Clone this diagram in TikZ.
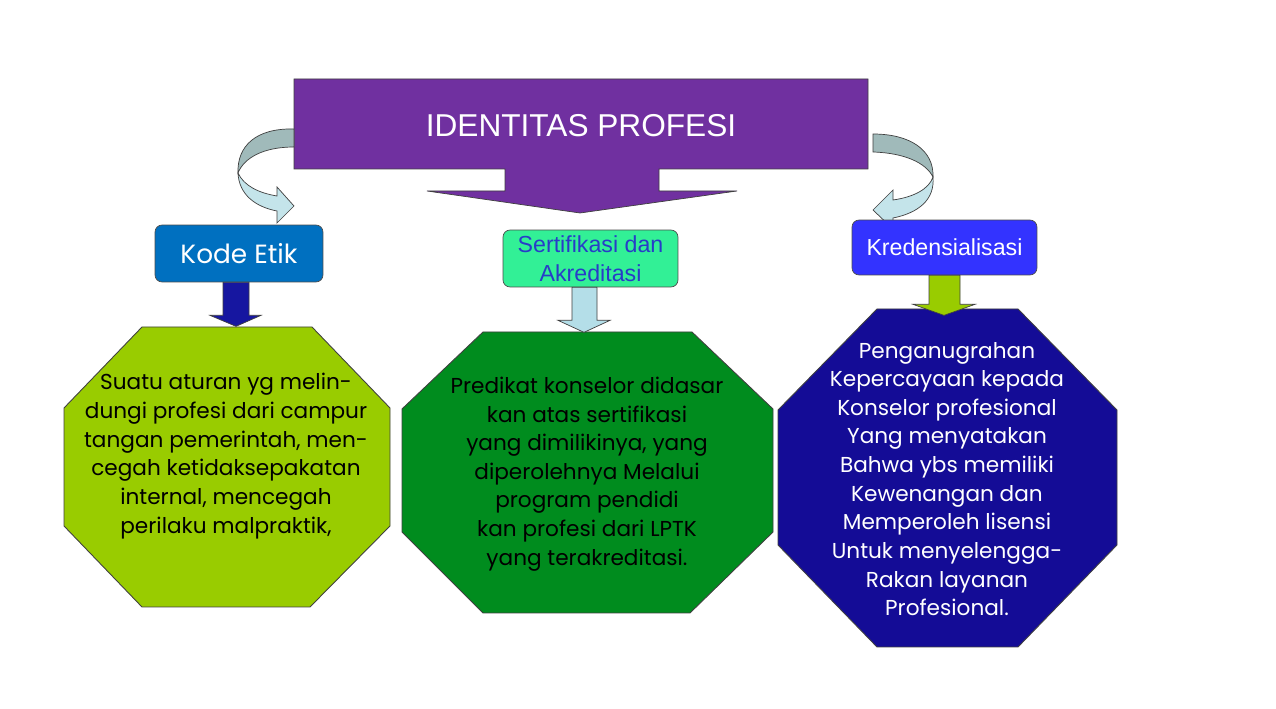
\documentclass[tikz,border=0pt]{standalone}
\usepackage{fontspec}
\setmainfont{Liberation Sans}
\newfontfamily\handfont{Poppins}
\usetikzlibrary{calc}
\definecolor{identpurple}{RGB}{112,48,160}
\definecolor{kodeblue}{RGB}{0,112,192}
\definecolor{sertgreen}{RGB}{50,240,150}
\definecolor{serttext}{RGB}{40,60,200}
\definecolor{kredblue}{RGB}{51,51,255}
\definecolor{navyarrow}{RGB}{22,22,160}
\definecolor{palearrow}{RGB}{180,222,232}
\definecolor{limegreen}{RGB}{153,204,0}
\definecolor{darkgreen}{RGB}{0,140,30}
\definecolor{deepnavy}{RGB}{20,12,150}
\definecolor{twistgray}{RGB}{160,186,186}
\definecolor{twistpale}{RGB}{196,228,234}
\begin{document}
\begin{tikzpicture}[x=0.02cm,y=-0.02cm]
\tikzstyle{box} = [rectangle, rounded corners=4pt, draw=black!70, align=center, inner sep=0pt]
\tikzstyle{octa} = [draw=black!75, line width=0.5pt]
\tikzstyle{desc} = [align=center, font=\handfont\fontsize{12.3}{16.3}\selectfont]
\tikzstyle{blockarrow} = [draw=black!75, line width=0.4pt]
\useasboundingbox[fill=white] (0,0) rectangle (1276,709);
% top banner with its down arrow
\filldraw[blockarrow, fill=identpurple] (294,79) -- (868,79) -- (868,169) -- (659,169) -- (659,191) -- (737,191) -- (580,213) -- (427,191) -- (505,191) -- (505,169) -- (294,169) -- cycle;
\node[text=white, font=\fontsize{18}{22}\selectfont] at (581,126) (ident) {IDENTITAS PROFESI};
% curved arrows
\filldraw[blockarrow, fill=twistgray] (294,129) .. controls (256,128) and (237,146) .. (238,173) .. controls (244,158) and (263,147) .. (294,147) -- cycle;
\filldraw[blockarrow, fill=twistpale] (238,173) .. controls (239,195) and (256,207) .. (277,211) -- (277,223) -- (294,206) -- (277,187) -- (277,196) .. controls (259,193) and (244,186) .. (238,173) -- cycle;
\filldraw[blockarrow, fill=twistgray] (873,134) .. controls (910,134) and (934,150) .. (933,177) .. controls (926,163) and (905,153) .. (873,152) -- cycle;
\filldraw[blockarrow, fill=twistpale] (933,177) .. controls (935,200) and (918,213) .. (893,218) -- (893,229) -- (873,210) -- (893,190) -- (893,200) .. controls (914,197) and (929,189) .. (933,177) -- cycle;
% the three headings
\node[box, fill=kodeblue, text=white, minimum width=3.36cm, minimum height=1.14cm, font=\handfont\fontsize{15}{18}\selectfont] at (239,253.5) (kode) {Kode Etik};
\node[box, fill=sertgreen, text=serttext, minimum width=3.5cm, minimum height=1.14cm, font=\fontsize{13.2}{16.5}\selectfont] at (590.5,258.5) (sert) {Sertifikasi dan\\Akreditasi};
\node[box, fill=kredblue, text=white, minimum width=3.7cm, minimum height=1.1cm, font=\fontsize{13.2}{16}\selectfont] at (944.5,247.5) (kred) {Kredensialisasi};
% octagons
\filldraw[octa, fill=limegreen] (142,327) -- (312,327) -- (390,408) -- (390,526) -- (310,607) -- (142,607) -- (64,526) -- (64,408) -- cycle;
\filldraw[octa, fill=darkgreen] (483,332) -- (692,332) -- (773,409) -- (773,532) -- (690,613) -- (483,613) -- (402,532) -- (402,409) -- cycle;
\filldraw[octa, fill=deepnavy] (877,309) -- (1018,309) -- (1117,410) -- (1117,545) -- (1018,647) -- (877,647) -- (778,545) -- (778,410) -- cycle;
\node[desc] at (226,456) (kode_def) {Suatu aturan yg melin-\\dungi profesi dari campur\\tangan pemerintah, men-\\cegah ketidaksepakatan\\internal, mencegah\\perilaku malpraktik,};
\node[desc] at (587,474) (sert_def) {Predikat konselor didasar\\kan atas sertifikasi\\yang dimilikinya, yang\\diperolehnya Melalui\\program pendidi\\kan profesi dari LPTK\\yang terakreditasi.};
\node[desc, text=white] at (947,479) (kred_def) {Penganugrahan\\Kepercayaan kepada\\Konselor profesional\\Yang menyatakan\\Bahwa ybs memiliki\\Kewenangan dan\\Memperoleh lisensi\\Untuk menyelengga-\\Rakan layanan\\Profesional.};
% block arrows from heading to octagon
\filldraw[blockarrow, fill=navyarrow] ($(kode.south)+(-16,0)$) -- ++(0,33) -- ++(-13,0) -- ($(kode.south)+(-3,44)$) -- ($(kode.south)+(22,33)$) -- ++(-12,0) -- ($(kode.south)+(10,0)$) -- cycle;
\filldraw[blockarrow, fill=palearrow] ($(sert.south)+(-18.5,0)$) -- ++(0,33) -- ++(-14,0) -- ($(sert.south)+(-6.5,45)$) -- ($(sert.south)+(19.5,33)$) -- ++(-13,0) -- ($(sert.south)+(6.5,0)$) -- cycle;
\filldraw[blockarrow, fill=limegreen] ($(kred.south)+(-15.5,0)$) -- ++(0,29) -- ++(-16,0) -- ($(kred.south)+(-0.5,40)$) -- ($(kred.south)+(30.5,29)$) -- ++(-15,0) -- ($(kred.south)+(15.5,0)$) -- cycle;
\end{tikzpicture}
\end{document}
